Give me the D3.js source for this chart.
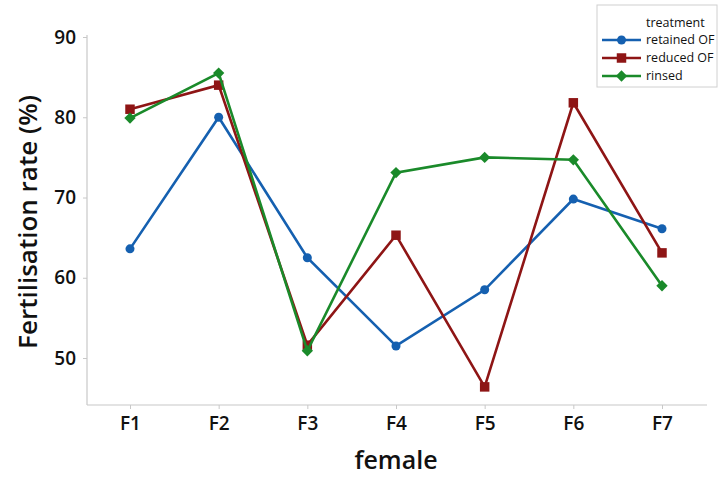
<!DOCTYPE html>
<html>
<head>
<meta charset="utf-8">
<script src="https://cdn.jsdelivr.net/npm/d3@7"></script>
<style>
  html, body { margin: 0; padding: 0; background: #fff; }
  svg { display: block; font-family: "Open Sans", "Noto Sans", sans-serif; }
</style>
</head>
<body>
<svg id="chart" width="721" height="477"></svg>
<script>
// Fertilisation rate per female, by treatment
const females = ["F1", "F2", "F3", "F4", "F5", "F6", "F7"];
const retainedOF = [63.6, 80.0, 62.5, 51.5, 58.5, 69.8, 66.1];
const reducedOF  = [81.0, 84.0, 51.6, 65.3, 46.4, 81.8, 63.1];
const rinsed     = [79.9, 85.5, 50.9, 73.1, 75.0, 74.7, 59.0];
const yTicks = [50, 60, 70, 80, 90];

// square diamond (rotated square) marker
const squareDiamond = {
  draw(ctx, size) {
    const r = Math.sqrt(size / 2);
    ctx.moveTo(0, -r); ctx.lineTo(r, 0); ctx.lineTo(0, r); ctx.lineTo(-r, 0); ctx.closePath();
  }
};

const series = [
  { name: "retained OF", values: retainedOF, color: "#1560b0", symbol: d3.symbolCircle, size: 64 },
  { name: "reduced OF",  values: reducedOF,  color: "#8e1515", symbol: d3.symbolSquare, size: 90 },
  { name: "rinsed",      values: rinsed,     color: "#1a8a2a", symbol: squareDiamond, size: 64 }
];

const FONT = '"Open Sans", "Noto Sans", sans-serif';
const svg = d3.select("#chart");
const plot = { left: 87, right: 707, top: 35, bottom: 405 };

const x = d3.scalePoint().domain(females).range([130, 662]);
const y = d3.scaleLinear().domain([50, 90]).range([358, 37]);

// axes
const axisColor = "#c8c8c8";
const yAxis = svg.append("g")
  .attr("transform", `translate(${plot.left},0)`)
  .call(d3.axisLeft(y).tickValues(yTicks).tickSize(4).tickPadding(7));
yAxis.select(".domain").attr("d", `M0,${plot.top}V${plot.bottom}`);

const xAxis = svg.append("g")
  .attr("transform", `translate(0,${plot.bottom})`)
  .call(d3.axisBottom(x).tickSize(4).tickPadding(8));
xAxis.select(".domain").attr("d", `M${plot.left},0H${plot.right}`);

[yAxis, xAxis].forEach(g => {
  g.attr("font-family", FONT);
  g.selectAll(".domain").attr("stroke", axisColor).attr("stroke-width", 1.2);
  g.selectAll(".tick line").attr("stroke", axisColor);
  g.selectAll(".tick text").attr("fill", "#111")
    .style("font-size", "19px").style("font-weight", 600);
});

// axis titles
svg.append("text")
  .attr("transform", "translate(37,222) rotate(-90)")
  .attr("text-anchor", "middle")
  .style("font-size", "26px").style("font-weight", 600).attr("fill", "#111")
  .text("Fertilisation rate (%)");
svg.append("text")
  .attr("x", 396).attr("y", 469)
  .attr("text-anchor", "middle")
  .style("font-size", "25px").style("font-weight", 600).attr("fill", "#111")
  .text("female");

// lines and markers
const line = d3.line().x((d, i) => x(females[i])).y(d => y(d));
series.forEach(s => {
  svg.append("path")
    .datum(s.values)
    .attr("fill", "none")
    .attr("stroke", s.color)
    .attr("stroke-width", 2.6)
    .attr("d", line);
  svg.append("g").selectAll("path")
    .data(s.values)
    .join("path")
    .attr("transform", (d, i) => `translate(${x(females[i])},${y(d)})`)
    .attr("d", d3.symbol().type(s.symbol).size(s.size))
    .attr("fill", s.color);
});

// legend
const legend = svg.append("g").attr("transform", "translate(597,5)");
legend.append("rect")
  .attr("width", 120).attr("height", 82)
  .attr("fill", "#fff").attr("stroke", "#d0d0d0");
legend.append("text")
  .attr("x", 49).attr("y", 22)
  .style("font-size", "12.5px").attr("fill", "#111")
  .text("treatment");
series.forEach((s, i) => {
  const gy = 35 + i * 18;
  legend.append("line")
    .attr("x1", 5).attr("x2", 44).attr("y1", gy).attr("y2", gy)
    .attr("stroke", s.color).attr("stroke-width", 2.6);
  legend.append("path")
    .attr("transform", `translate(24.5,${gy})`)
    .attr("d", d3.symbol().type(s.symbol).size(s.size))
    .attr("fill", s.color);
  legend.append("text")
    .attr("x", 49).attr("y", gy + 4)
    .style("font-size", "12.5px").attr("fill", "#111")
    .text(s.name);
});
</script>
</body>
</html>
